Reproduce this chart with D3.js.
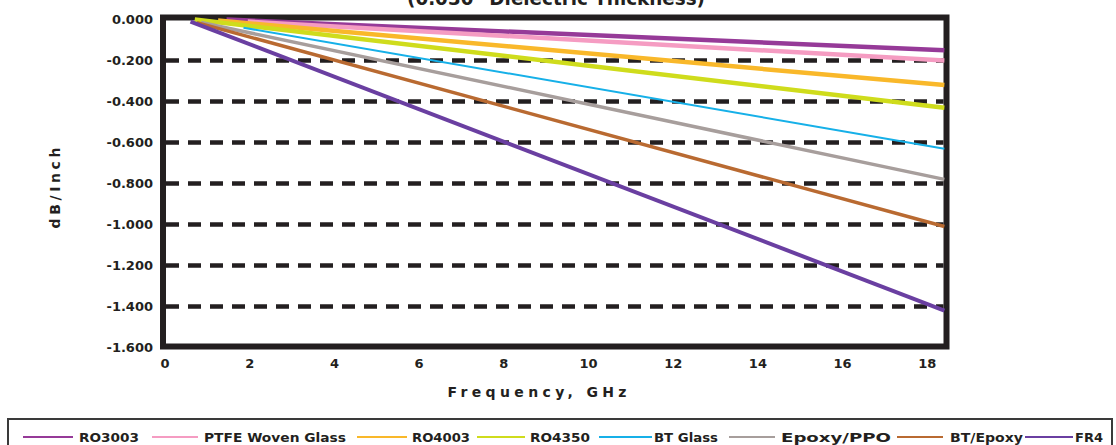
<!DOCTYPE html>
<html>
<head>
<meta charset="utf-8">
<script src="https://cdn.jsdelivr.net/npm/d3@7"></script>
<style>
  html, body { margin: 0; padding: 0; background: #fff; overflow: hidden; }
  svg { display: block; }
  text { font-family: "DejaVu Sans", Verdana, sans-serif; font-weight: bold; fill: #231f20; }
</style>
</head>
<body>
<svg id="chart" width="1116" height="445"></svg>
<script>
// ---- data ----
const seriesNames = ["RO3003", "PTFE Woven Glass", "RO4003", "RO4350", "BT Glass", "Epoxy/PPO", "BT/Epoxy", "FR4"];
const startFreq   = [1.5, 2.0, 1.3, 0.75, 1.9, 0.9, 0.8, 0.65];
const startLoss   = [0.0, -0.01, -0.005, 0.0, -0.04, -0.015, -0.015, -0.01];
const endFreq     = [18.45, 18.45, 18.45, 18.45, 18.45, 18.45, 18.45, 18.45];
const endLoss     = [-0.15, -0.20, -0.32, -0.43, -0.63, -0.78, -1.01, -1.42];
const yTickValues = [0, -0.2, -0.4, -0.6, -0.8, -1.0, -1.2, -1.4, -1.6];
const yTickLabels = ["0.000", "-0.200", "-0.400", "-0.600", "-0.800", "-1.000", "-1.200", "-1.400", "-1.600"];
const xTickValues = [0, 2, 4, 6, 8, 10, 12, 14, 16, 18];
const titleText = "(0.030\" Dielectric Thickness)";
const xTitle = "Frequency, GHz";
const yTitle = "dB/Inch";

// ---- styles ----
const colors = ["#963a98", "#f59cc2", "#f9b82a", "#cfdc1c", "#16b0e8", "#a79e9c", "#b96a31", "#6a3fa1"];
const widths = [4.5, 4.5, 4.5, 4.5, 2, 3.5, 3.5, 4];

const svg = d3.select("#chart");
const x = d3.scaleLinear().domain([0, 18.5]).range([163, 946.5]);
const y = d3.scaleLinear().domain([0, -1.6]).range([19.5, 347.5]);

// Title (cut at top, as in the reference)
svg.append("text")
  .attr("x", 556).attr("y", 5)
  .attr("text-anchor", "middle")
  .attr("font-size", 20)
  .attr("textLength", 298).attr("lengthAdjust", "spacingAndGlyphs")
  .text(titleText);

// Gridlines (dashed)
svg.append("g").selectAll("line")
  .data(yTickValues.filter(v => v < 0 && v > -1.6))
  .join("line")
  .attr("x1", x(0) + 3).attr("x2", x(18.5) - 3)
  .attr("y1", d => y(d)).attr("y2", d => y(d))
  .attr("stroke", "#231f20")
  .attr("stroke-width", 4.5)
  .attr("stroke-dasharray", "13,9");

// Frame
svg.append("rect")
  .attr("x", x(0)).attr("y", y(0) - 2)
  .attr("width", x(18.5) - x(0))
  .attr("height", y(-1.6) - y(0) + 1)
  .attr("fill", "none")
  .attr("stroke", "#231f20")
  .attr("stroke-width", 6);

// Y tick labels
svg.append("g").selectAll("text")
  .data(yTickValues)
  .join("text")
  .attr("x", 153)
  .attr("y", d => y(d))
  .attr("dy", "0.36em")
  .attr("text-anchor", "end")
  .attr("font-size", 13)
  .text((d, i) => yTickLabels[i]);

// X tick labels
svg.append("g").selectAll("text")
  .data(xTickValues)
  .join("text")
  .attr("x", d => x(d) + 2)
  .attr("y", 368)
  .attr("text-anchor", "middle")
  .attr("font-size", 13)
  .text(d => d);

// Axis titles
svg.append("text")
  .attr("x", 537).attr("y", 397)
  .attr("text-anchor", "middle")
  .attr("font-size", 14)
  .attr("textLength", 179).attr("lengthAdjust", "spacing")
  .text(xTitle);

svg.append("text")
  .attr("transform", "translate(60,188) rotate(-90)")
  .attr("text-anchor", "middle")
  .attr("font-size", 14)
  .attr("textLength", 81).attr("lengthAdjust", "spacing")
  .text(yTitle);

// Series lines
const line = d3.line().x(d => x(d[0])).y(d => y(d[1]));
svg.append("g").selectAll("path")
  .data(seriesNames.map((n, i) => ({ name: n, i, pts: [[startFreq[i], startLoss[i]], [endFreq[i], endLoss[i]]] })))
  .join("path")
  .attr("d", d => line(d.pts))
  .attr("fill", "none")
  .attr("stroke", d => colors[d.i])
  .attr("stroke-width", d => widths[d.i]);

// Legend
const legend = svg.append("g");
legend.append("rect")
  .attr("x", 8).attr("y", 419)
  .attr("width", 1104).attr("height", 40)
  .attr("fill", "none")
  .attr("stroke", "#3a3a3a")
  .attr("stroke-width", 2);

const legLine = [[23, 73], [152, 198], [357, 407], [477, 525], [599, 652], [729, 775], [897, 943], [1025, 1073]];
const legText = [[79, 139], [204, 346], [412, 470], [530, 590], [654, 718], [781, 891], [950, 1023], [1075, 1103]];

const items = legend.selectAll("g.item").data(seriesNames).join("g").attr("class", "item");
items.append("line")
  .attr("x1", (d, i) => legLine[i][0]).attr("x2", (d, i) => legLine[i][1])
  .attr("y1", 437).attr("y2", 437)
  .attr("stroke", (d, i) => colors[i])
  .attr("stroke-width", 2);
items.append("text")
  .attr("x", (d, i) => legText[i][0])
  .attr("y", 442)
  .attr("font-size", 12.5)
  .attr("textLength", (d, i) => legText[i][1] - legText[i][0])
  .attr("lengthAdjust", "spacingAndGlyphs")
  .text(d => d);
</script>
</body>
</html>
